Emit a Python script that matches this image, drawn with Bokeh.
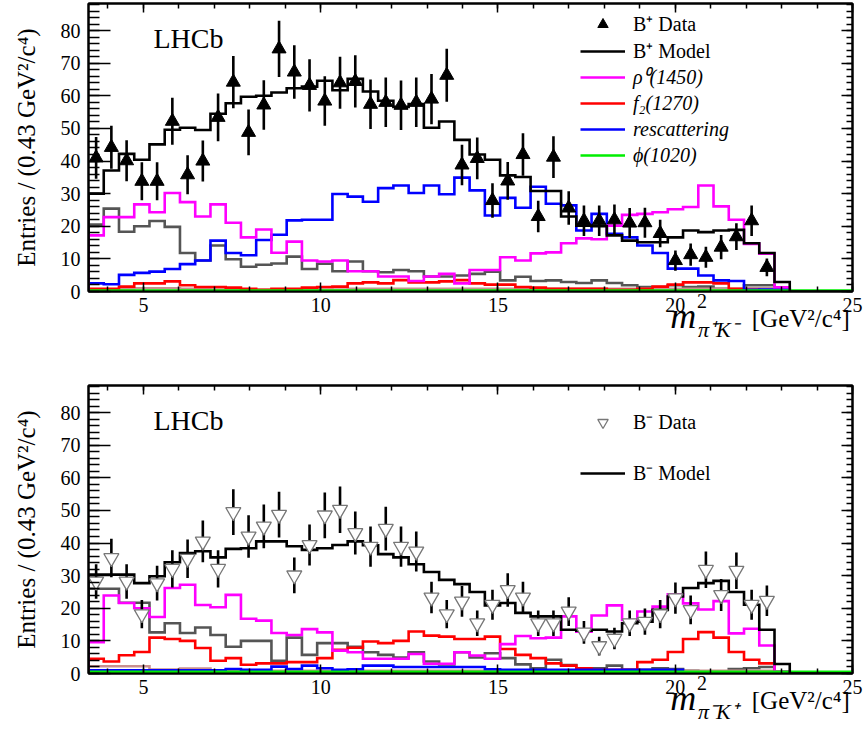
import numpy as np
from bokeh.plotting import figure
from bokeh.models import (LinearAxis, SingleIntervalTicker, Legend, LegendItem, Label)
from bokeh.layouts import column
from bokeh.embed import file_html
from bokeh.resources import INLINE

# ---------------- binning / ranges ----------------
BIN_START = 3.45
BIN_WIDTH = 0.43
N_BINS = 50
X_RANGE = (3.45, 25.0)
Y_RANGE = (0.0, 88.3)

X_TICK_INTERVAL = 5
Y_TICK_INTERVAL = 10

# ---------------- top panel (B+) ----------------
top_model = [30.0, 37.1, 42.2, 40.4, 45.1, 49.6, 50.2, 49.5, 54.5, 57.7,
             59.7, 60.0, 61.0, 62.3, 62.8, 64.6, 61.7, 65.2, 61.3, 58.5,
             56.6, 57.5, 50.2, 52.1, 46.5, 42.0, 40.4, 35.6, 35.1, 30.8,
             30.8, 23.0, 20.2, 20.0, 17.2, 15.6, 15.1, 15.1, 16.6, 18.7,
             18.2, 18.7, 18.9, 14.8, 11.8, 2.9, 0, 0, 0, 0]
top_rho1450 = [17.2, 22.8, 22.8, 26.7, 24.3, 30.2, 27.4, 23.0, 26.7, 21.1,
               16.6, 19.0, 11.9, 15.3, 9.5, 9.2, 9.5, 6.2, 6.2, 4.6,
               4.6, 3.2, 4.6, 5.4, 2.5, 6.6, 6.6, 10.5, 9.5, 11.7,
               12.0, 14.8, 16.3, 16.0, 20.2, 23.5, 23.8, 24.3, 25.2, 25.9,
               32.5, 26.1, 22.0, 14.6, 11.6, 1.3, 0, 0, 0, 0]
top_f2 = [0.8, 0.8, 1.5, 2.5, 2.5, 3.1, 1.9, 1.4, 1.4, 1.2,
          0.8, 0.5, 0.8, 0.8, 1.2, 1.4, 1.5, 2.5, 2.8, 2.5,
          3.5, 2.8, 2.8, 3.1, 3.5, 2.5, 2.1, 2.1, 1.4, 1.2,
          0.8, 0.8, 0.8, 0.8, 0.5, 0.5, 0.8, 1.5, 2.1, 2.8,
          2.8, 2.5, 0.8, 0.5, 0.3, 0, 0, 0, 0, 0]
top_rescattering = [2.5, 2.2, 5.1, 5.7, 6.1, 6.9, 8.4, 9.5, 15.6, 11.8,
                    11.1, 15.8, 17.4, 21.8, 22.0, 22.0, 29.9, 29.1, 27.5, 31.7,
                    32.5, 30.2, 32.5, 29.8, 34.9, 31.0, 23.3, 28.7, 25.7, 32.1,
                    26.9, 26.4, 18.7, 23.8, 17.7, 16.6, 14.1, 11.8, 7.0, 7.0,
                    4.9, 3.4, 3.2, 0.5, 0.6, 0.6, 0, 0, 0, 0]
top_phi1020 = [0.3] * 50
top_other_gray = [20.5, 25.4, 18.3, 20.0, 21.6, 19.8, 11.8, 9.5, 14.1, 9.9,
                  7.6, 8.2, 8.6, 10.7, 6.9, 8.5, 6.2, 9.2, 6.2, 5.9,
                  6.6, 6.2, 4.6, 4.6, 4.9, 5.4, 6.1, 3.4, 4.5, 3.2,
                  3.4, 2.9, 2.6, 3.4, 2.6, 1.9, 1.4, 1.4, 1.9, 1.4,
                  1.5, 0.8, 0.6, 1.9, 1.9, 0.8, 0, 0, 0, 0]
top_other_brown = [0.6, 0.6, 0.8, 1.0, 1.0, 1.0, 0.8, 0.8, 0.6, 0.6,
                   0.5, 0.5, 0.5, 0.5, 0.5, 0.6, 0.6, 0.8, 0.8, 0.8,
                   0.8, 0.8, 0.8, 0.8, 0.8, 0.8, 0.8, 0.8, 0.8, 0.8,
                   0.8, 0.8, 0.8, 0.8, 0.8, 0.8, 0.8, 0.8, 0.8, 0.8,
                   0.8, 0.8, 0.8, 1.0, 1.0, 0.6, 0, 0, 0, 0]
top_data = [41.0, 44.2, 40.1, 33.8, 33.8, 52.2, 35.8, 40.0, 53.4, 64.2,
            48.8, 57.2, 74.4, 67.3, 63.2, 58.4, 64.0, 64.4, 57.4, 58.0,
            57.1, 58.0, 59.0, 66.3, 38.8, 40.8, 27.9, 33.9, 42.0, 23.0,
            41.2, 25.6, 21.7, 21.7, 22.0, 21.0, 21.1, 17.8, 9.5, 11.3,
            10.5, 13.6, 16.8, 21.7, 7.4]
top_err = [6.4, 6.6, 6.3, 5.8, 5.8, 7.2, 6.0, 6.3, 7.3, 8.0,
           7.0, 7.6, 8.6, 8.2, 8.0, 7.6, 8.0, 8.0, 7.6, 7.6,
           7.6, 7.6, 7.7, 8.1, 6.2, 6.4, 5.3, 5.8, 6.5, 4.8,
           6.4, 5.1, 4.7, 4.7, 4.7, 4.6, 4.6, 4.2, 3.1, 3.4,
           3.2, 3.7, 4.1, 4.7, 2.7]

# ---------------- bottom panel (B-) ----------------
bot_model = [30.3, 30.3, 30.3, 27.7, 29.8, 34.1, 36.9, 37.5, 35.6, 38.2,
             38.4, 40.5, 40.5, 39.0, 37.9, 38.4, 39.4, 40.5, 39.3, 36.6,
             35.6, 33.5, 31.1, 28.7, 27.4, 25.0, 20.9, 21.6, 18.6, 17.5,
             17.5, 13.4, 13.1, 13.4, 12.9, 15.4, 15.9, 19.5, 23.6, 26.2,
             27.7, 28.4, 25.0, 21.1, 13.4, 2.9, 0, 0, 0, 0]
bot_rho1450 = [9.6, 23.9, 21.6, 20.0, 17.3, 26.2, 27.2, 21.0, 20.3, 24.1,
               16.8, 16.2, 12.4, 11.8, 13.6, 12.6, 7.0, 6.5, 4.5, 4.5,
               4.5, 6.0, 3.0, 3.0, 6.5, 5.5, 4.5, 9.0, 11.5, 10.8,
               11.0, 17.5, 12.8, 17.8, 20.9, 16.4, 19.0, 20.5, 24.3, 21.5,
               19.6, 22.2, 12.3, 13.7, 8.6, 0.5, 0, 0, 0, 0]
bot_f2 = [4.5, 3.7, 5.6, 6.6, 11.0, 10.6, 10.0, 7.8, 3.9, 4.7,
          2.7, 3.1, 3.1, 3.5, 3.5, 4.7, 7.3, 7.9, 9.8, 9.3,
          10.0, 12.9, 11.6, 11.3, 10.6, 10.6, 11.3, 7.5, 5.7, 4.7,
          3.1, 2.4, 1.6, 1.1, 1.1, 1.1, 3.5, 4.2, 6.6, 10.6,
          12.7, 11.0, 6.6, 4.2, 3.1, 0, 0, 0, 0, 0]
bot_rescattering = [1.0, 1.0, 1.0, 1.0, 1.0, 1.0, 1.0, 1.0, 1.0, 1.4,
                    1.1, 1.1, 2.1, 1.4, 2.4, 1.6, 1.1, 1.3, 2.4, 2.4,
                    2.0, 2.0, 2.0, 2.0, 2.0, 2.0, 1.3, 1.1, 1.1, 1.1,
                    1.1, 1.1, 1.1, 1.1, 1.1, 1.1, 1.1, 1.1, 1.1, 0,
                    0, 0, 0, 0, 0, 0, 0, 0, 0, 0]
bot_phi1020 = [0.5] * 50
bot_other_gray = [26.0, 26.0, 21.7, 21.7, 12.6, 15.4, 12.4, 14.1, 11.8, 8.2,
                  10.0, 10.0, 3.9, 11.0, 5.7, 9.3, 9.3, 8.2, 6.5, 5.7,
                  4.9, 6.5, 3.7, 2.8, 6.5, 4.9, 6.2, 4.7, 2.8, 1.6,
                  4.2, 2.6, 1.4, 1.6, 2.4, 1.1, 1.1, 1.6, 1.4, 0.8,
                  0.6, 0.6, 1.4, 1.6, 2.0, 0.6, 0, 0, 0, 0]
bot_other_brown = [2.2, 2.2, 2.2, 2.2, 1.2, 1.2, 1.5, 1.5, 1.0, 0.8,
                   0.8, 0.8, 0.8, 0.8, 0.8, 0.8, 0.8, 0.8, 0.8, 0.8,
                   0.8, 0.8, 0.8, 0.8, 0.8, 0.8, 0.8, 0.8, 0.8, 0.8,
                   0.8, 0.8, 0.8, 0.8, 0.8, 0.8, 0.8, 0.8, 0.8, 0.8,
                   0.8, 0.8, 0.8, 0.8, 0.8, 0.5, 0, 0, 0, 0]
bot_data = [28.2, 35.4, 28.2, 18.2, 27.7, 32.1, 35.2, 40.5, 32.1, 49.5,
            42.0, 45.1, 48.7, 30.1, 39.4, 48.5, 50.2, 43.1, 38.9, 44.4,
            38.9, 37.4, 23.3, 18.2, 22.1, 15.4, 21.1, 25.6, 23.3, 15.4,
            15.4, 19.0, 12.6, 8.4, 10.7, 15.4, 15.9, 18.2, 23.1, 19.5,
            31.8, 24.1, 31.5, 21.1, 22.3]
bot_err = [5.3, 5.9, 5.3, 4.3, 5.3, 5.7, 5.9, 6.4, 5.7, 7.0,
           6.5, 6.7, 7.0, 5.5, 6.3, 7.0, 7.1, 6.6, 6.2, 6.7,
           6.2, 6.1, 4.8, 4.3, 4.7, 3.9, 4.6, 5.1, 4.8, 3.9,
           3.9, 4.4, 3.5, 2.9, 3.3, 3.9, 4.0, 4.3, 4.8, 4.4,
           5.6, 4.9, 5.6, 4.6, 4.7]

COLORS = dict(model="black", rho="#ff00ff", f2="#ff0000", resc="#0000ff",
              phi="#00ee00", gray="#555555", brown="#c99090")
FONT = "Liberation Serif"

# page geometry (pixels)
PAGE_W = 865
FRAME_L = 88
FRAME_R = 13
TOP_H, TOP_BT, TOP_BB = 355, 3, 64
BOT_H, BOT_BT, BOT_BB = 385, 30, 67
PX_PER_X = (PAGE_W - FRAME_L - FRAME_R) / (X_RANGE[1] - X_RANGE[0])

edges = BIN_START + BIN_WIDTH * np.arange(N_BINS + 1)
centers = edges[:-1] + BIN_WIDTH / 2.0


def hist_path(vals):
    v = np.asarray(vals, dtype=float)
    xs = np.repeat(edges, 2)
    ys = np.concatenate([[0.0], np.repeat(v, 2), [0.0]])
    return xs, ys


def make_panel(height, border_top, border_bottom):
    p = figure(width=PAGE_W, height=height, x_range=X_RANGE, y_range=Y_RANGE,
               output_backend="svg", toolbar_location=None,
               min_border_left=FRAME_L, min_border_right=FRAME_R,
               min_border_top=border_top, min_border_bottom=border_bottom)
    p.xgrid.visible = False
    p.ygrid.visible = False
    p.outline_line_color = "black"
    p.outline_line_width = 2
    p.background_fill_color = "white"
    p.border_fill_color = "white"

    p.xaxis.ticker = SingleIntervalTicker(interval=X_TICK_INTERVAL, num_minor_ticks=5)
    p.yaxis.ticker = SingleIntervalTicker(interval=Y_TICK_INTERVAL, num_minor_ticks=5)
    for ax in (p.xaxis[0], p.yaxis[0]):
        ax.major_tick_out = 0
        ax.minor_tick_out = 0
        ax.axis_line_width = 2
        ax.major_tick_line_width = 1.5
        ax.minor_tick_line_width = 1.5
        ax.major_label_text_font = FONT
        ax.major_label_text_font_size = "20px"
        ax.major_label_text_color = "black"
    p.xaxis.major_tick_in = 9
    p.xaxis.minor_tick_in = 5
    p.xaxis.major_label_standoff = 6
    p.yaxis.major_tick_in = 22
    p.yaxis.minor_tick_in = 11
    p.yaxis.major_label_standoff = 8
    p.yaxis.axis_label = "Entries / (0.43 GeV²/c⁴)"
    p.yaxis.axis_label_text_font = FONT
    p.yaxis.axis_label_text_font_style = "normal"
    p.yaxis.axis_label_text_font_size = "25px"
    p.yaxis.axis_label_text_color = "black"
    p.yaxis.axis_label_standoff = 18

    top_ax = LinearAxis(ticker=SingleIntervalTicker(interval=X_TICK_INTERVAL, num_minor_ticks=5),
                        major_label_text_color=None, major_label_standoff=0,
                        major_tick_in=9, major_tick_out=0, minor_tick_in=5, minor_tick_out=0,
                        major_tick_line_width=1.5, minor_tick_line_width=1.5, axis_line_width=2)
    right_ax = LinearAxis(ticker=SingleIntervalTicker(interval=Y_TICK_INTERVAL, num_minor_ticks=5),
                          major_label_text_color=None, major_label_standoff=0,
                          major_tick_in=11, major_tick_out=0, minor_tick_in=6, minor_tick_out=0,
                          major_tick_line_width=1.5, minor_tick_line_width=1.5, axis_line_width=2)
    p.add_layout(top_ax, "above")
    p.add_layout(right_ax, "right")
    return p


def draw_components(p, comps):
    rends = {}
    for key, vals in comps:
        xs, ys = hist_path(vals)
        rends[key] = p.line(xs, ys, line_color=COLORS[key], line_width=2.6,
                            line_join="miter")
    return rends


def make_label_strip(height, sub, base):
    # transparent strip laid over the panel's lower border, same x scale
    x0 = X_RANGE[0] - FRAME_L / PX_PER_X
    x1 = X_RANGE[0] + (PAGE_W - FRAME_L) / PX_PER_X
    s = figure(width=PAGE_W, height=height, x_range=(x0, x1), y_range=(0, height),
               output_backend="svg", toolbar_location=None, title=None,
               x_axis_type=None, y_axis_type=None,
               min_border=0, min_border_left=0, min_border_right=0,
               min_border_top=0, min_border_bottom=0,
               margin=(-height, 0, 0, 0))
    s.grid.visible = False
    s.outline_line_color = None
    s.background_fill_color = None
    s.border_fill_color = None
    s.add_layout(Label(x=19.55, y=base + 12, text="m", text_font=FONT, text_font_style="italic",
                       text_font_size="36px", text_color="black",
                       text_baseline="alphabetic", text_align="left"))
    s.add_layout(Label(x=20.40, y=base + 27, text="2", text_font=FONT, text_color="black",
                       text_font_size="20px", text_baseline="alphabetic", text_align="left"))
    s.add_layout(Label(x=20.43, y=base - 2, text=sub, text_font=FONT, text_font_style="italic",
                       text_font_size="22px", text_color="black",
                       text_baseline="alphabetic", text_align="left"))
    s.add_layout(Label(x=22.15, y=base + 9, text="[GeV²/c⁴]", text_font=FONT, text_color="black",
                       text_font_size="25px", text_baseline="alphabetic", text_align="left"))
    return s


def add_lhcb(p):
    p.add_layout(Label(x=5.28, y=77.6, text="LHCb", text_font=FONT, text_font_size="28px",
                       text_color="black", text_baseline="middle", text_align="left"))


def style_legend(lg, spacing):
    lg.glyph_width = 45
    lg.glyph_height = 26
    lg.label_height = 26
    lg.spacing = spacing
    lg.padding = 0
    lg.margin = 0
    lg.label_standoff = 8
    lg.border_line_color = None
    lg.background_fill_alpha = 0
    lg.label_text_font = FONT
    lg.label_text_font_size = "20px"
    lg.label_text_color = "black"


# ---------------- top panel ----------------
p1 = make_panel(TOP_H, TOP_BT, TOP_BB)
r1 = draw_components(p1, [("gray", top_other_gray), ("brown", top_other_brown),
                          ("f2", top_f2), ("resc", top_rescattering), ("rho", top_rho1450),
                          ("phi", top_phi1020), ("model", top_model)])
tc = centers[:len(top_data)]
td = np.asarray(top_data)
te = np.asarray(top_err)
p1.segment(x0=tc, y0=td - te, x1=tc, y1=td + te, line_color="black", line_width=2.6)
r1_data = p1.scatter(tc, td, marker="triangle", size=14, fill_color="black", line_color="black")
add_lhcb(p1)

leg_a = Legend(items=[LegendItem(label="B⁺ Data", renderers=[r1_data]),
                      LegendItem(label="B⁺ Model", renderers=[r1["model"]])],
               location=(492, 227))
style_legend(leg_a, 0)
leg_b = Legend(items=[LegendItem(label="ρ⁰(1450)", renderers=[r1["rho"]]),
                      LegendItem(label="f₂(1270)", renderers=[r1["f2"]]),
                      LegendItem(label="rescattering", renderers=[r1["resc"]]),
                      LegendItem(label="ϕ(1020)", renderers=[r1["phi"]])],
               location=(492, 123))
style_legend(leg_b, 0)
leg_b.label_text_font_style = "italic"
p1.add_layout(leg_a)
p1.add_layout(leg_b)
s1 = make_label_strip(TOP_BB, "π⁺K⁻", 28)

# ---------------- bottom panel ----------------
p2 = make_panel(BOT_H, BOT_BT, BOT_BB)
r2 = draw_components(p2, [("gray", bot_other_gray), ("brown", bot_other_brown),
                          ("f2", bot_f2), ("resc", bot_rescattering), ("rho", bot_rho1450),
                          ("phi", bot_phi1020), ("model", bot_model)])
bc = centers[:len(bot_data)]
bd = np.asarray(bot_data)
be = np.asarray(bot_err)
p2.segment(x0=bc, y0=bd - be, x1=bc, y1=bd + be, line_color="black", line_width=2.6)
r2_data = p2.scatter(bc, bd, marker="inverted_triangle", size=15, fill_color="white",
                     line_color="#777777", line_width=1.3)
add_lhcb(p2)

leg_c = Legend(items=[LegendItem(label="B⁻ Data", renderers=[r2_data]),
                      LegendItem(label="B⁻ Model", renderers=[r2["model"]])],
               location=(492, 187))
style_legend(leg_c, 24)
p2.add_layout(leg_c)
s2 = make_label_strip(BOT_BB, "π⁻K⁺", 31)

layout = column(p1, s1, p2, s2, spacing=0)
open("out.html", "w").write(file_html(layout, INLINE))
